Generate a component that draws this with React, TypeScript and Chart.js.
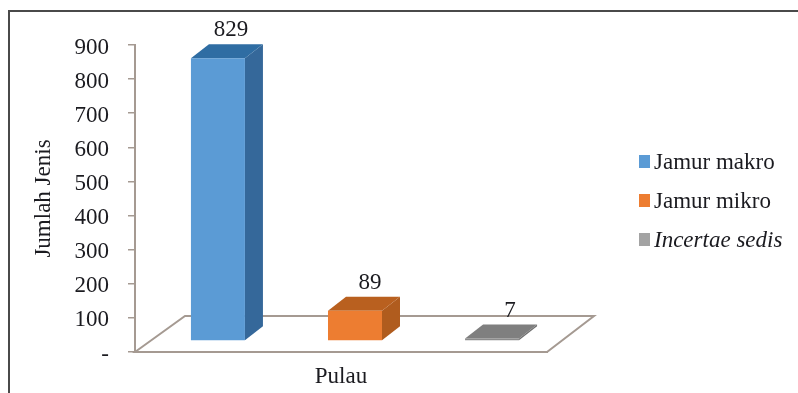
import React, { useEffect, useRef } from "react";
import { Chart, registerables } from "chart.js";

Chart.register(...registerables);

const categories = ["Pulau"];
const seriesNames = ["Jamur makro", "Jamur mikro", "Incertae sedis"];
const jamurMakro = [829];
const jamurMikro = [89];
const incertaeSedis = [7];
const frontColors = ["#5b9bd5", "#ed7d31", "#8c8c8c"];
const sideColors = ["#35689a", "#b05c1e", "#707070"];
const topColors = ["#2f6da3", "#b9601f", "#7f7f7f"];
const yTicks = [0, 100, 200, 300, 400, 500, 600, 700, 800, 900];

const SERIF = '"Liberation Serif", serif';
const INK = "#1b1b20";
const FLOOR = "#a59a92";
const FONT_SIZE = 23;
// The bars stand part-way into the floor, so their faces sit off the axis.
const SHIFT_X = 14;
const SHIFT_Y = -11;
const DEPTH_X = 18;
const DEPTH_Y = 14;
const FLOOR_DX = 47;
const FLOOR_DY = 36;
const LABEL_DX = [13, 15, 18];

function shape(ctx: CanvasRenderingContext2D, pts: number[][], fill: string) {
  ctx.fillStyle = fill;
  ctx.beginPath();
  pts.forEach(([x, y], i) => (i ? ctx.lineTo(x, y) : ctx.moveTo(x, y)));
  ctx.closePath();
  ctx.fill();
}

const scene = {
  id: "scene",
  // Floor of the chart, drawn behind the bars
  beforeDatasetsDraw(chart: any) {
    const { ctx, chartArea: a } = chart;
    ctx.save();
    ctx.strokeStyle = FLOOR;
    ctx.lineWidth = 2;
    ctx.beginPath();
    ctx.moveTo(a.left, a.bottom);
    ctx.lineTo(a.left + FLOOR_DX + 3, a.bottom - FLOOR_DY);
    ctx.lineTo(a.right + FLOOR_DX, a.bottom - FLOOR_DY);
    ctx.lineTo(a.right, a.bottom);
    ctx.closePath();
    ctx.stroke();
    ctx.restore();
    // Side and top faces of each bar
    ctx.save();
    ctx.translate(SHIFT_X, SHIFT_Y);
    chart.data.datasets.forEach((_: any, i: number) => {
      const bar = chart.getDatasetMeta(i).data[0];
      const half = bar.width / 2;
      const l = bar.x - half;
      const r = bar.x + half;
      const t = bar.y;
      const b = bar.base;
      shape(ctx, [[r, t], [r + DEPTH_X, t - DEPTH_Y], [r + DEPTH_X, b - DEPTH_Y], [r, b]], sideColors[i]);
      shape(ctx, [[l, t], [l + DEPTH_X, t - DEPTH_Y], [r + DEPTH_X, t - DEPTH_Y], [r, t]], topColors[i]);
    });
    // Front faces inherit the same offset from here until afterDatasetsDraw
  },
  afterDatasetsDraw(chart: any) {
    const { ctx } = chart;
    ctx.restore();
    ctx.save();
    ctx.font = `${FONT_SIZE}px ${SERIF}`;
    ctx.fillStyle = INK;
    ctx.textAlign = "center";
    ctx.textBaseline = "middle";
    chart.data.datasets.forEach((ds: any, i: number) => {
      const bar = chart.getDatasetMeta(i).data[0];
      ctx.fillText(String(ds.data[0]), bar.x + SHIFT_X + LABEL_DX[i], bar.y + SHIFT_Y - DEPTH_Y - 14);
    });
    // Legend, with the last entry set in italics
    const legendX = 639;
    const legendY = [161.5, 200.5, 239.5];
    chart.data.datasets.forEach((ds: any, i: number) => {
      ctx.fillStyle = i === 2 ? "#a3a3a3" : ds.backgroundColor;
      ctx.fillRect(legendX, legendY[i] - 6.5, 11, 13);
      ctx.fillStyle = INK;
      ctx.textAlign = "left";
      ctx.font = `${i === 2 ? "italic " : ""}${FONT_SIZE}px ${SERIF}`;
      ctx.fillText(ds.label, legendX + 15, legendY[i] + 1);
    });
    ctx.restore();
  },
};

export default function App() {
  const ref = useRef<HTMLCanvasElement>(null);
  useEffect(() => {
    document.body.style.margin = "0";
    document.body.style.overflow = "hidden";
    const values = [jamurMakro, jamurMikro, incertaeSedis];
    const chart = new Chart(ref.current as HTMLCanvasElement, {
      type: "bar",
      data: {
        labels: categories,
        datasets: seriesNames.map((label, i) => ({
          label,
          data: values[i],
          backgroundColor: frontColors[i],
          categoryPercentage: 0.998,
          barPercentage: 0.394,
        })),
      },
      plugins: [scene],
      options: {
        animation: false,
        responsive: false,
        layout: { padding: { left: 30, right: 251, top: 45, bottom: 0 } },
        plugins: { legend: { display: false }, tooltip: { enabled: false } },
        scales: {
          x: {
            grid: { display: false },
            border: { color: FLOOR, width: 2 },
            ticks: { display: false },
            title: {
              display: true,
              text: "Pulau",
              color: INK,
              font: { family: SERIF, size: FONT_SIZE },
              padding: { top: 12, bottom: 2 },
            },
            afterFit(s: any) {
              s.height = 41;
            },
          },
          y: {
            min: 0,
            max: 900,
            afterBuildTicks(s: any) {
              s.ticks = yTicks.map((value) => ({ value }));
            },
            grid: { drawOnChartArea: false, drawTicks: true, tickLength: 7, color: FLOOR, lineWidth: 1.5 },
            border: { color: FLOOR, width: 2 },
            ticks: {
              color: INK,
              padding: 19,
              // The leading empty line nudges each label just below its tick mark
              font: { family: SERIF, size: FONT_SIZE, lineHeight: 0.22 },
              callback: (v: any) => ["", v === 0 ? "-" : String(v)],
            },
            title: {
              display: true,
              text: "Jumlah Jenis",
              color: INK,
              font: { family: SERIF, size: FONT_SIZE },
              padding: { top: 0, bottom: 10 },
            },
            afterFit(s: any) {
              s.width = 105;
            },
          },
        },
      },
    } as any);
    return () => chart.destroy();
  }, []);
  return (
    <div style={{ position: "relative", width: 798, height: 393, overflow: "hidden", background: "#fff" }}>
      <canvas ref={ref} width={798} height={393} style={{ position: "absolute", left: 0, top: 0 }} />
      <div style={{ position: "absolute", left: 8, top: 10, width: 800, height: 400, borderTop: "2px solid #4a4a4a", borderLeft: "2px solid #4a4a4a", boxSizing: "border-box" }} />
    </div>
  );
}
